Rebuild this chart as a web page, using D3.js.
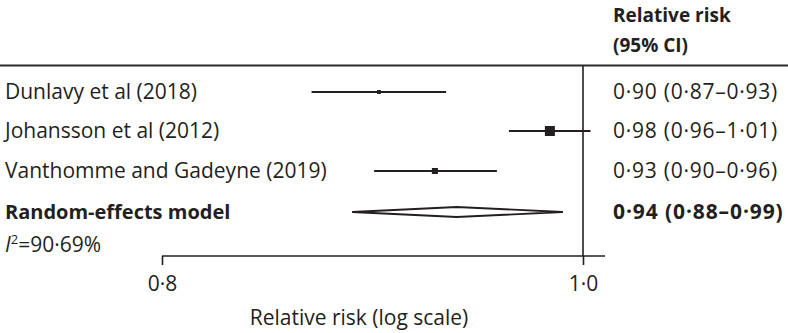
<!DOCTYPE html>
<html>
<head>
<meta charset="utf-8">
<script src="https://cdn.jsdelivr.net/npm/d3@7"></script>
<style>
  body { margin: 0; background: #fff; }
  text { font-family: "Open Sans", sans-serif; fill: #231f20; }
</style>
</head>
<body>
<script>
// study data
var studies = ["Dunlavy et al (2018)", "Johansson et al (2012)", "Vanthomme and Gadeyne (2019)"];
var estimates = [0.8975, 0.9826, 0.9245];
var lower = [0.866, 0.9615, 0.8952];
var upper = [0.930, 1.004, 0.9554];
var weights = [10, 66, 24];
var ciLabels = ["0·90 (0·87–0·93)", "0·98 (0·96–1·01)", "0·93 (0·90–0·96)"];

// pooled estimate
var pooledLabel = "Random-effects model";
var pooled = [0.8848, 0.9353, 0.9894]; // lower, estimate, upper
var pooledCi = "0·94 (0·88–0·99)";
var heterogeneity = "90·69%";

var tickValues = [0.8, 1.0];
var tickLabels = ["0·8", "1·0"];

var width = 788,
    height = 333;

var svg = d3.select("body")
    .append("svg")
    .attr("width", width)
    .attr("height", height);

// log scale for relative risk
var x = d3.scaleLog()
    .domain([0.8, 1.0])
    .range([162, 583]);

var rowY = [92, 131, 171, 212];
var axisY = 256;

//header
svg.append("text")
    .attr("x", 613).attr("y", 22)
    .attr("font-size", 19).attr("font-weight", "bold")
    .text("Relative risk");
svg.append("text")
    .attr("x", 613).attr("y", 52)
    .attr("font-size", 19).attr("font-weight", "bold")
    .text("(95% CI)");

//top rule
svg.append("line")
    .attr("x1", 0).attr("x2", width)
    .attr("y1", 65.5).attr("y2", 65.5)
    .attr("stroke", "#2b2b2b").attr("stroke-width", 2.2);

//line of no effect
svg.append("line")
    .attr("x1", x(1)).attr("x2", x(1))
    .attr("y1", 66).attr("y2", axisY)
    .attr("stroke", "#231f20").attr("stroke-width", 1.6);

var size = d3.scaleSqrt().domain([0, 66]).range([0, 10]);

//study rows
var rows = svg.selectAll(".study")
    .data(studies)
    .enter()
    .append("g")
    .attr("class", "study");

rows.append("text")
    .attr("x", 5)
    .attr("y", function(d, i){ return rowY[i] + 7; })
    .attr("font-size", 21)
    .text(function(d){ return d; });

rows.append("line")
    .attr("x1", function(d, i){ return x(lower[i]); })
    .attr("x2", function(d, i){ return x(upper[i]); })
    .attr("y1", function(d, i){ return rowY[i]; })
    .attr("y2", function(d, i){ return rowY[i]; })
    .attr("stroke", "#231f20").attr("stroke-width", 1.8);

rows.append("rect")
    .attr("x", function(d, i){ return x(estimates[i]) - size(weights[i]) / 2; })
    .attr("y", function(d, i){ return rowY[i] - size(weights[i]) / 2; })
    .attr("width", function(d, i){ return size(weights[i]); })
    .attr("height", function(d, i){ return size(weights[i]); })
    .attr("fill", "#231f20");

rows.append("text")
    .attr("x", 613)
    .attr("y", function(d, i){ return rowY[i] + 7; })
    .attr("font-size", 21)
    .attr("letter-spacing", 0.75)
    .text(function(d, i){ return ciLabels[i]; });

//pooled row
svg.append("text")
    .attr("x", 5).attr("y", rowY[3] + 7)
    .attr("font-size", 20).attr("font-weight", "bold")
    .text(pooledLabel);

svg.append("path")
    .attr("d", "M" + x(pooled[0]) + "," + rowY[3] +
               "L" + x(pooled[1]) + "," + (rowY[3] - 5) +
               "L" + x(pooled[2]) + "," + rowY[3] +
               "L" + x(pooled[1]) + "," + (rowY[3] + 5) + "Z")
    .attr("fill", "#fff")
    .attr("stroke", "#231f20").attr("stroke-width", 1.8);

svg.append("text")
    .attr("x", 613).attr("y", rowY[3] + 7)
    .attr("font-size", 21).attr("font-weight", "bold")
    .attr("letter-spacing", 0.9)
    .text(pooledCi);

//heterogeneity
var het = svg.append("text")
    .attr("x", 5).attr("y", 252)
    .attr("font-size", 21);
het.append("tspan").attr("font-style", "italic").text("I");
het.append("tspan").attr("font-size", 13).attr("dy", -8).text("2");
het.append("tspan").attr("dy", 8).text("=" + heterogeneity);

//x axis
var axis = svg.append("g")
    .attr("transform", "translate(0," + axisY + ")")
    .call(d3.axisBottom(x)
        .tickValues(tickValues)
        .tickSize(9)
        .tickFormat(function(d, i){ return tickLabels[i]; }));

axis.select(".domain").remove();
axis.selectAll(".tick line")
    .attr("stroke", "#231f20").attr("stroke-width", 1.6);
axis.selectAll(".tick text")
    .attr("font-family", "Open Sans, sans-serif")
    .attr("font-size", 21)
    .attr("fill", "#231f20")
    .attr("dy", "1.1em");

axis.append("line")
    .attr("x1", x(0.8)).attr("x2", x(1) + 22)
    .attr("y1", 0).attr("y2", 0)
    .attr("stroke", "#231f20").attr("stroke-width", 1.6);

svg.append("text")
    .attr("x", 359).attr("y", 325)
    .attr("text-anchor", "middle")
    .attr("font-size", 21)
    .text("Relative risk (log scale)");
</script>
</body>
</html>
